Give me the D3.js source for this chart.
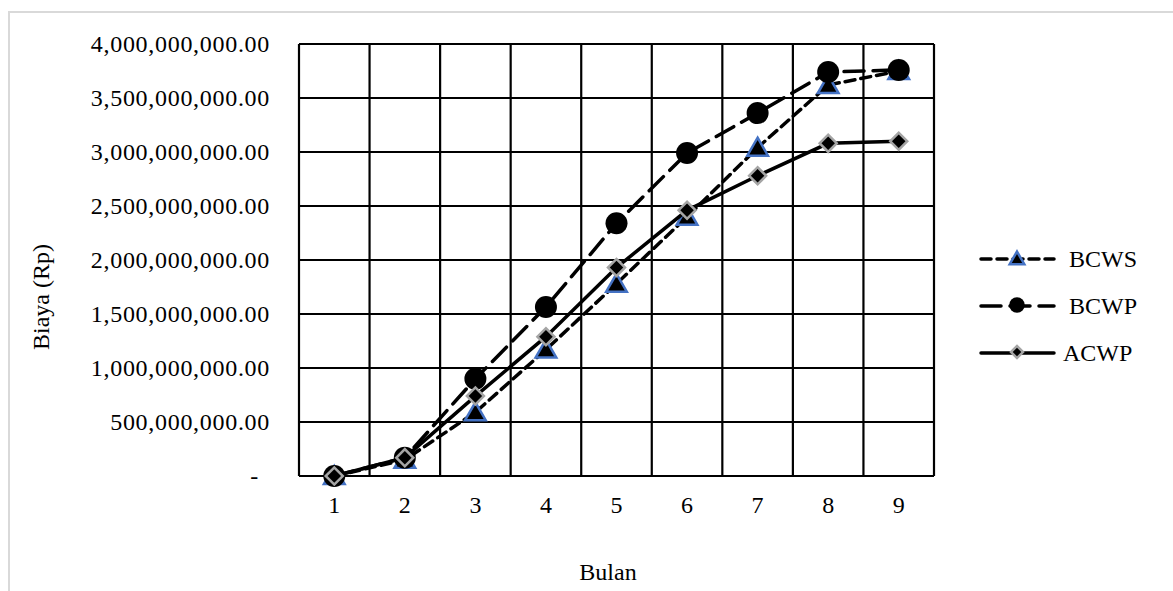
<!DOCTYPE html>
<html>
<head>
<meta charset="utf-8">
<script src="https://cdn.jsdelivr.net/npm/d3@7"></script>
<style>
  body { margin: 0; background: #fff; }
  text { font-family: "Liberation Serif", "Times New Roman", serif; fill: #000; }
</style>
</head>
<body>
<svg id="chart"></svg>
<script>
// data
const bulan = [1, 2, 3, 4, 5, 6, 7, 8, 9];
const bcws = [0, 150e6, 590e6, 1170e6, 1780e6, 2400e6, 3040e6, 3620e6, 3750e6];
const bcwp = [0, 170e6, 900e6, 1565e6, 2340e6, 2990e6, 3360e6, 3740e6, 3760e6];
const acwp = [0, 170e6, 740e6, 1290e6, 1930e6, 2460e6, 2780e6, 3080e6, 3100e6];
const yTicks = [0, 500e6, 1000e6, 1500e6, 2000e6, 2500e6, 3000e6, 3500e6, 4000e6];
const seriesNames = ["BCWS", "BCWP", "ACWP"];

const width = 1173, height = 591;
const plot = { left: 299, right: 934, top: 44, bottom: 476 };

const svg = d3.select("#chart")
  .attr("width", width)
  .attr("height", height);

// outer light border
svg.append("rect")
  .attr("x", 9).attr("y", 12)
  .attr("width", width + 20).attr("height", height + 20)
  .attr("fill", "none")
  .attr("stroke", "#d9d9d9")
  .attr("stroke-width", 2);

const x = d3.scaleBand()
  .domain(bulan)
  .range([plot.left, plot.right]);

const y = d3.scaleLinear()
  .domain([0, 4000e6])
  .range([plot.bottom, plot.top]);

// grid
const grid = svg.append("g").attr("id", "grid");
grid.selectAll("line.h")
  .data(yTicks)
  .enter()
  .append("line")
  .attr("class", "h")
  .attr("x1", plot.left).attr("x2", plot.right)
  .attr("y1", d => y(d)).attr("y2", d => y(d))
  .attr("stroke", "#000").attr("stroke-width", 2.2);

const vlines = bulan.map(d => x(d)).concat([plot.right]);
grid.selectAll("line.v")
  .data(vlines)
  .enter()
  .append("line")
  .attr("class", "v")
  .attr("x1", d => d).attr("x2", d => d)
  .attr("y1", plot.top).attr("y2", plot.bottom)
  .attr("stroke", "#000").attr("stroke-width", 2.2);

// y tick labels
const fmt = d3.format(",.2f");
svg.append("g")
  .selectAll("text")
  .data(yTicks)
  .enter()
  .append("text")
  .attr("x", d => d === 0 ? 259 : 270)
  .attr("y", d => y(d))
  .attr("dy", "0.35em")
  .style("text-anchor", "end")
  .attr("font-size", "24px")
  .attr("letter-spacing", "0.7px")
  .text(d => d === 0 ? "-" : fmt(d));

// x tick labels
svg.append("g")
  .selectAll("text")
  .data(bulan)
  .enter()
  .append("text")
  .attr("x", d => x(d) + x.bandwidth() / 2)
  .attr("y", 513)
  .style("text-anchor", "middle")
  .attr("font-size", "24px")
  .text(d => d);

// axis titles
svg.append("text")
  .attr("x", 608).attr("y", 580)
  .style("text-anchor", "middle")
  .attr("font-size", "24px")
  .text("Bulan");

svg.append("text")
  .attr("transform", "translate(49,297) rotate(-90)")
  .style("text-anchor", "middle")
  .attr("font-size", "24px")
  .text("Biaya  (Rp)");

// series
const series = [
  { name: "BCWS", values: bcws, dash: "10,6", marker: "triangle" },
  { name: "BCWP", values: bcwp, dash: "20,9", marker: "circle" },
  { name: "ACWP", values: acwp, dash: null, marker: "diamond" }
];

const line = d3.line()
  .x((d, i) => x(bulan[i]) + x.bandwidth() / 2)
  .y(d => y(d));

function drawMarker(g, type, cx, cy, scale) {
  if (type === "triangle") {
    g.append("path")
      .attr("d", d3.symbol().type(d3.symbolTriangle).size(185 * scale)())
      .attr("transform", "translate(" + cx + "," + (cy + 2) + ")")
      .attr("fill", "#000")
      .attr("stroke", "#4472c4")
      .attr("stroke-width", 2.5);
  } else if (type === "circle") {
    g.append("circle")
      .attr("cx", cx).attr("cy", cy)
      .attr("r", 11 * Math.sqrt(scale))
      .attr("fill", "#000");
  } else {
    g.append("path")
      .attr("d", d3.symbol().type(d3.symbolSquare).size(145 * scale)())
      .attr("transform", "translate(" + cx + "," + cy + ") rotate(45)")
      .attr("fill", "#000")
      .attr("stroke", "#a5a5a5")
      .attr("stroke-width", 2.5);
  }
}

series.forEach(s => {
  const g = svg.append("g").attr("class", "series");
  g.append("path")
    .datum(s.values)
    .attr("d", line)
    .attr("fill", "none")
    .attr("stroke", "#000")
    .attr("stroke-width", 3.5)
    .attr("stroke-linecap", "round")
    .attr("stroke-dasharray", s.dash);
  s.values.forEach((v, i) => {
    drawMarker(g, s.marker, x(bulan[i]) + x.bandwidth() / 2, y(v), 1);
  });
});

// legend
const legend = svg.append("g").attr("id", "legend");
series.forEach((s, i) => {
  const ly = 259 + i * 47;
  legend.append("line")
    .attr("x1", 981).attr("x2", 1054)
    .attr("y1", ly).attr("y2", ly)
    .attr("stroke", "#000")
    .attr("stroke-width", 3.5)
    .attr("stroke-linecap", "round")
    .attr("stroke-dasharray", s.dash);
  drawMarker(legend, s.marker, 1017, ly - 1, 0.5);
  legend.append("text")
    .attr("x", i === 2 ? 1063 : 1069)
    .attr("y", ly)
    .attr("dy", "0.35em")
    .attr("font-size", "24px")
    .text(s.name);
});
</script>
</body>
</html>
